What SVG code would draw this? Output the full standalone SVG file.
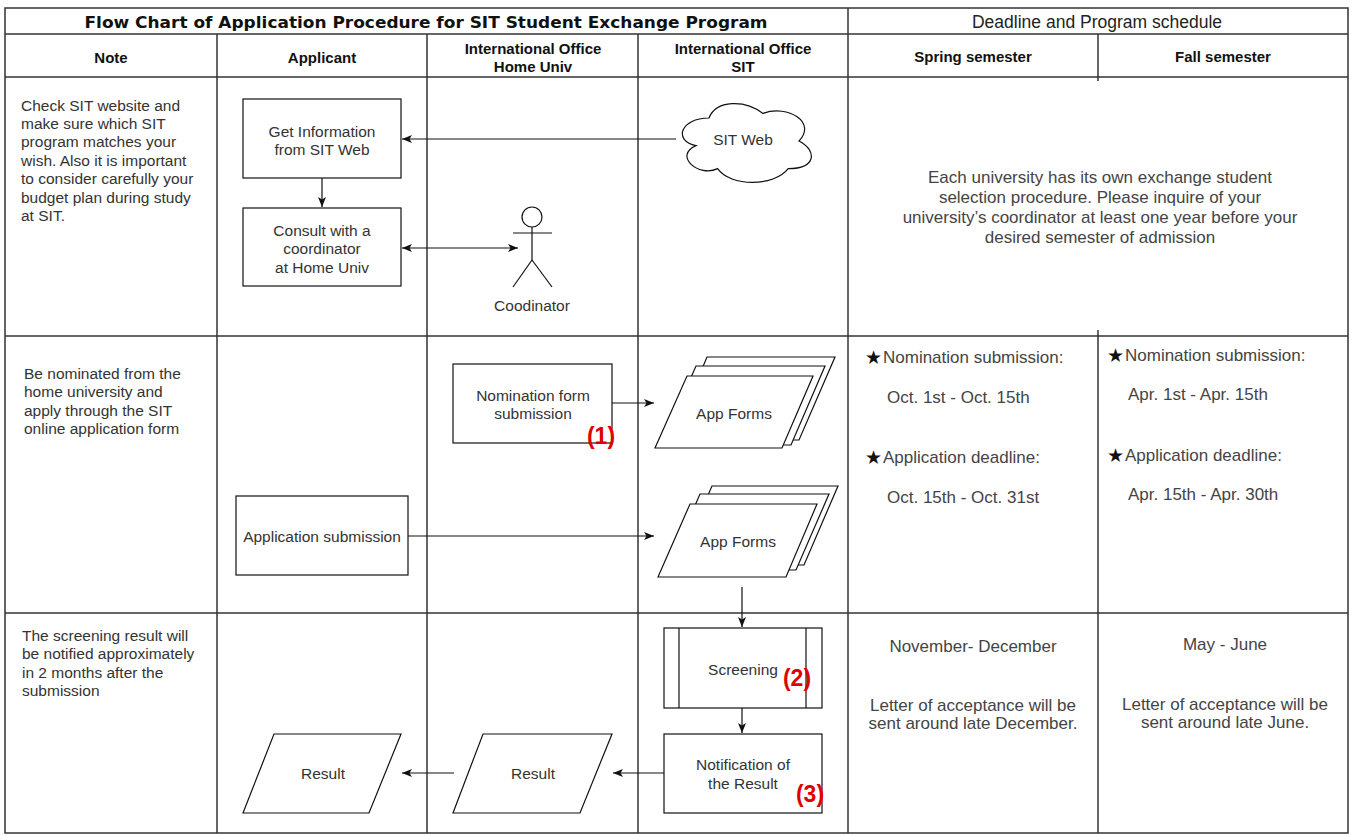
<svg xmlns="http://www.w3.org/2000/svg" width="1355" height="835" viewBox="0 0 1355 835">
<defs>
<style>
.grid{stroke:#333;stroke-width:1.5;fill:none}
.node{fill:#fff;stroke:#111;stroke-width:1.2}
.edge{stroke:#111;stroke-width:1.2;fill:none}
.t{font-family:"Liberation Sans",Arial,sans-serif;font-size:15.5px;fill:#333}
.c{text-anchor:middle}
.h{font-family:"Liberation Sans",Arial,sans-serif;font-size:15px;font-weight:bold;fill:#111;text-anchor:middle}
.r{font-family:"Liberation Sans",Arial,sans-serif;font-size:17px;fill:#444}
.star{font-family:"DejaVu Sans",sans-serif;font-size:19px;fill:#111}
.red{font-family:"Liberation Sans",Arial,sans-serif;font-size:23px;font-weight:bold;fill:#e00000;text-anchor:middle}
</style>
<marker id="ah" viewBox="0 0 10 8" markerWidth="10" markerHeight="8" refX="10" refY="4" orient="auto-start-reverse" markerUnits="userSpaceOnUse">
<path d="M0,0 L10,4 L0,8 L2.5,4 Z" fill="#111"/>
</marker>
</defs>
<rect width="1355" height="835" fill="#fff"/>

<g id="grid">
<rect class="grid" x="5" y="8" width="1343" height="825"/>
<line class="grid" x1="5" y1="34" x2="1348" y2="34"/>
<line class="grid" x1="5" y1="77" x2="1348" y2="77"/>
<line class="grid" x1="5" y1="336" x2="1348" y2="336"/>
<line class="grid" x1="5" y1="613" x2="1348" y2="613"/>
<line class="grid" x1="217" y1="34" x2="217" y2="833"/>
<line class="grid" x1="427" y1="34" x2="427" y2="833"/>
<line class="grid" x1="638" y1="34" x2="638" y2="833"/>
<line class="grid" x1="848" y1="8" x2="848" y2="833"/>
<line class="grid" x1="1098" y1="34" x2="1098" y2="81"/>
<line class="grid" x1="1098" y1="330" x2="1098" y2="833"/>
</g>

<g id="headers">
<text x="426" y="28" font-family="DejaVu Sans,sans-serif" font-size="16" font-weight="bold" fill="#111" text-anchor="middle" textLength="683" lengthAdjust="spacingAndGlyphs">Flow Chart of Application Procedure for SIT Student Exchange Program</text>
<text x="1097" y="27.5" font-family="Liberation Sans,Arial,sans-serif" font-size="17.5" fill="#222" text-anchor="middle">Deadline and Program schedule</text>
<text class="h" x="111" y="62.5">Note</text>
<text class="h" x="322" y="62.5">Applicant</text>
<text class="h" x="533" y="53.5">International Office</text>
<text class="h" x="533" y="71.5">Home Univ</text>
<text class="h" x="743" y="53.5">International Office</text>
<text class="h" x="743" y="71.5">SIT</text>
<text class="h" x="973" y="62" font-size="14">Spring semester</text>
<text class="h" x="1223" y="61.5">Fall semester</text>
</g>

<g id="notes">
<text class="t" x="21" y="110.5">Check SIT website and</text>
<text class="t" x="21" y="128.9">make sure which SIT</text>
<text class="t" x="21" y="147.3">program matches your</text>
<text class="t" x="21" y="165.7">wish. Also it is important</text>
<text class="t" x="21" y="184.1">to consider carefully your</text>
<text class="t" x="21" y="202.5">budget plan during study</text>
<text class="t" x="21" y="220.9">at SIT.</text>
<text class="t" x="24" y="378.5">Be nominated from the</text>
<text class="t" x="24" y="397">home university and</text>
<text class="t" x="24" y="415.5">apply through the SIT</text>
<text class="t" x="24" y="434">online application form</text>
<text class="t" x="22" y="640.5">The screening result will</text>
<text class="t" x="22" y="659">be notified approximately</text>
<text class="t" x="22" y="677.5">in 2 months after the</text>
<text class="t" x="22" y="696">submission</text>
</g>

<g id="schedule">
<text class="r c" x="1100" y="183">Each university has its own exchange student</text>
<text class="r c" x="1100" y="203">selection procedure. Please inquire of your</text>
<text class="r c" x="1100" y="223">university’s coordinator at least one year before your</text>
<text class="r c" x="1100" y="243">desired semester of admission</text>
<text class="star" x="865" y="364">★</text>
<text class="r" x="883" y="363">Nomination submission:</text>
<text class="r" x="887" y="403">Oct. 1st - Oct. 15th</text>
<text class="star" x="865" y="464">★</text>
<text class="r" x="883" y="463">Application deadline:</text>
<text class="r" x="887" y="503">Oct. 15th - Oct. 31st</text>
<text class="star" x="1107" y="362">★</text>
<text class="r" x="1125" y="361">Nomination submission:</text>
<text class="r" x="1128" y="400">Apr. 1st - Apr. 15th</text>
<text class="star" x="1107" y="462">★</text>
<text class="r" x="1125" y="461">Application deadline:</text>
<text class="r" x="1128" y="500">Apr. 15th - Apr. 30th</text>
<text class="r c" x="973" y="651.5" font-size="18">November- December</text>
<text class="r c" x="973" y="711">Letter of acceptance will be</text>
<text class="r c" x="973" y="729">sent around late December.</text>
<text class="r c" x="1225" y="649.5" font-size="18">May - June</text>
<text class="r c" x="1225" y="710">Letter of acceptance will be</text>
<text class="r c" x="1225" y="728">sent around late June.</text>
</g>

<g id="connectors">
<line class="edge" x1="676" y1="139" x2="402" y2="139" marker-end="url(#ah)"/>
<line class="edge" x1="322" y1="178" x2="322" y2="207" marker-end="url(#ah)"/>
<line class="edge" x1="402" y1="248" x2="518" y2="248" marker-start="url(#ah)" marker-end="url(#ah)"/>
<line class="edge" x1="612" y1="403" x2="654" y2="403" marker-end="url(#ah)"/>
<line class="edge" x1="408" y1="536" x2="654" y2="536" marker-end="url(#ah)"/>
<line class="edge" x1="742" y1="587" x2="742" y2="627" marker-end="url(#ah)"/>
<line class="edge" x1="742" y1="708" x2="742" y2="733" marker-end="url(#ah)"/>
<line class="edge" x1="664" y1="773" x2="613" y2="773" marker-end="url(#ah)"/>
<line class="edge" x1="454" y1="773" x2="402" y2="773" marker-end="url(#ah)"/>
</g>

<g id="get-info">
<rect class="node" x="243" y="99" width="158" height="79"/>
<text class="t c" x="322" y="136.5">Get Information</text>
<text class="t c" x="322" y="154.5">from SIT Web</text>
</g>

<g id="consult">
<rect class="node" x="243" y="208" width="158" height="78"/>
<text class="t c" x="322" y="235.5">Consult with a</text>
<text class="t c" x="322" y="253.5">coordinator</text>
<text class="t c" x="322" y="272.5">at Home Univ</text>
</g>

<g id="sit-web">
<path class="node" d="M709,118 C680.2,118 673,141 696,145.6 C673,155.7 698.9,177.8 717.6,168.6 C730.6,187 773.8,187 788.2,168.6 C817,168.6 817,150.2 799,141 C817,122.6 788.2,104.2 763,113.4 C745,99.6 716.2,99.6 709,118 Z"/>
<text class="t c" x="743" y="144.5">SIT Web</text>
</g>

<g id="coordinator">
<circle class="node" cx="532" cy="217" r="10"/>
<line class="edge" x1="532" y1="227" x2="532" y2="260"/>
<line class="edge" x1="513" y1="233" x2="552" y2="233"/>
<line class="edge" x1="532" y1="260" x2="513" y2="287"/>
<line class="edge" x1="532" y1="260" x2="552" y2="287"/>
<text class="t c" x="532" y="310.5">Coodinator</text>
</g>

<g id="nomination">
<rect class="node" x="453" y="364" width="159" height="79"/>
<text class="t c" x="533" y="400.5">Nomination form</text>
<text class="t c" x="533" y="418.5">submission</text>
<text class="red" x="601" y="444">(1)</text>
</g>

<g id="app-forms-1">
<polygon class="node" points="672,440 707,357 835,357 799,440"/>
<polygon class="node" points="661,445 696,366 825,366 791,445"/>
<polygon class="node" points="655,448 687,376 813,376 782,448"/>
<text class="t c" x="734" y="418.5">App Forms</text>
</g>

<g id="application">
<rect class="node" x="236" y="496" width="172" height="79"/>
<text class="t c" x="322" y="541.5">Application submission</text>
</g>

<g id="app-forms-2">
<polygon class="node" points="677,565 712,486 838,486 804,565"/>
<polygon class="node" points="667,570 700,494 829,494 796,570"/>
<polygon class="node" points="658,577 690,504 817,504 786,577"/>
<text class="t c" x="738" y="546.5">App Forms</text>
</g>

<g id="screening">
<rect class="node" x="664" y="628" width="158" height="80"/>
<line class="edge" x1="679" y1="628" x2="679" y2="708"/>
<line class="edge" x1="806" y1="628" x2="806" y2="708"/>
<text class="t c" x="743" y="674.5">Screening</text>
<text class="red" x="797" y="686">(2)</text>
</g>

<g id="notification">
<rect class="node" x="664" y="734" width="158" height="79"/>
<text class="t c" x="743" y="769.5">Notification of</text>
<text class="t c" x="743" y="788.5">the Result</text>
<text class="red" x="810" y="802">(3)</text>
</g>

<g id="result-home">
<polygon class="node" points="453,813 483,734 612,734 580,813"/>
<text class="t c" x="533" y="778.5">Result</text>
</g>

<g id="result-applicant">
<polygon class="node" points="243,813 274,734 401,734 369,813"/>
<text class="t c" x="323" y="778.5">Result</text>
</g>
</svg>
